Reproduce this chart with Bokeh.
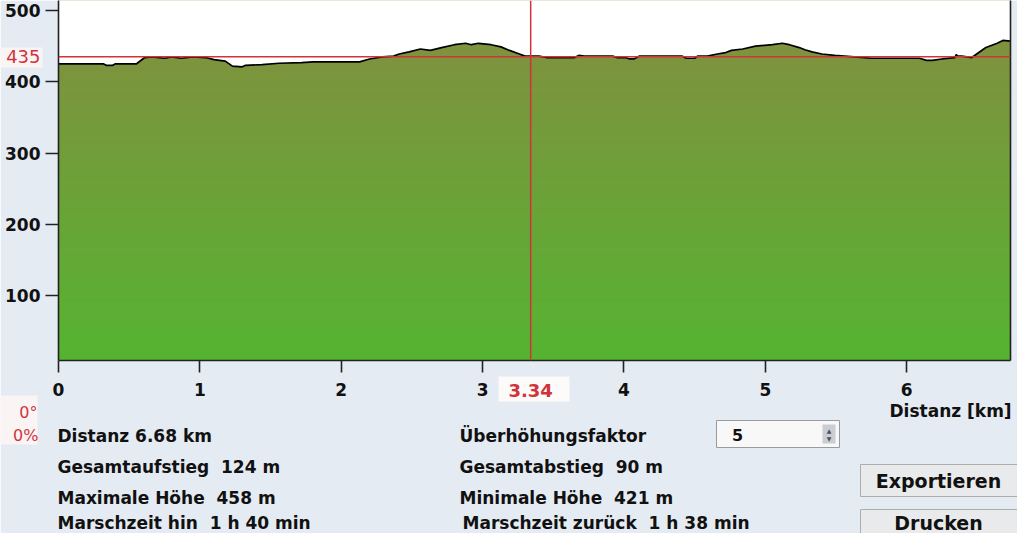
import numpy as np
from bokeh.plotting import figure
from bokeh.models import Range1d, FixedTicker, LinearAxis, Span
from bokeh.core.properties import value
from bokeh.embed import file_html
from bokeh.resources import INLINE

# ---------------- data ----------------
dist_km = [0.00, 0.32, 0.34, 0.38, 0.40, 0.55, 0.61, 0.66, 0.75, 0.80, 0.87, 0.95, 1.04, 1.10,
           1.18, 1.23, 1.30, 1.32, 1.44, 1.56, 1.72, 1.80, 2.13, 2.20, 2.29, 2.37, 2.41, 2.48,
           2.56, 2.63, 2.71, 2.80, 2.88, 2.92, 2.97, 3.06, 3.13, 3.19, 3.26, 3.30, 3.40, 3.45,
           3.65, 3.68, 3.72, 3.92, 3.95, 4.01, 4.04, 4.07, 4.09, 4.11, 4.41, 4.44, 4.50, 4.52,
           4.59, 4.66, 4.72, 4.76, 4.84, 4.93, 5.05, 5.12, 5.17, 5.24, 5.28, 5.33, 5.40, 5.49,
           5.70, 5.75, 6.09, 6.14, 6.18, 6.25, 6.34, 6.35, 6.36, 6.39, 6.46, 6.51, 6.56, 6.64,
           6.68, 6.734]
elev_m = [425, 425, 423, 423, 425, 425, 434, 435, 433, 435, 433, 435, 434, 431,
          429, 422, 421, 423, 424, 426, 427, 428, 428, 432, 435, 436, 439, 442,
          446, 444, 448, 452, 454, 452, 454, 452, 449, 444, 439, 436, 436, 434,
          434, 437, 436, 436, 434, 434, 432, 432, 434, 436, 436, 433, 433, 436,
          436, 439, 441, 444, 446, 450, 452, 454, 452, 448, 445, 442, 439, 437,
          434, 433, 433, 430, 430, 432, 434, 438, 436, 436, 434, 441, 448, 454,
          458, 457]

x_ticks = [0, 1, 2, 3, 4, 5, 6]
y_ticks = [100, 200, 300, 400, 500]
cursor_km = 3.34
cursor_elev = 435
cursor_km_text = "3.34"
cursor_elev_text = "435"
slope_texts = ["0°", "0%"]
stats_left = ["Distanz 6.68 km", "Gesamtaufstieg\u00a0 124 m", "Maximale Höhe\u00a0 458 m",
              "Marschzeit hin\u00a0 1 h 40 min"]
stats_right = ["Überhöhungsfaktor", "Gesamtabstieg\u00a0 90 m", "Minimale Höhe\u00a0 421 m",
               "Marschzeit zurück\u00a0 1 h 38 min"]
factor_text = "5"
button_texts = ["Exportieren", "Drucken"]
x_axis_text = "Distanz [km]"

# ---------------- layout ----------------
W, H = 1017, 533
FL, FR, FT, FB = 58, 1010, 0, 360
X0, X1 = 0.0, 6.734
Y0, Y1 = 9.1, 514.0

BG = "#E5EBF2"
RED = "#D0343A"
INK = "#111111"
FONT = "DejaVu Sans"


def dx(cx):
    return X0 + (cx - FL) * (X1 - X0) / (FR - FL)


def dy(cy):
    return Y1 - (cy - FT) * (Y1 - Y0) / (FB - FT)


p = figure(width=W, height=H, output_backend="svg", toolbar_location=None,
           x_range=Range1d(X0, X1), y_range=Range1d(Y0, Y1),
           min_border_left=FL, min_border_right=W - FR, min_border_top=FT,
           min_border_bottom=H - FB,
           background_fill_color="white", border_fill_color=BG, outline_line_color=None)
p.grid.visible = False

# gradient fill under the profile
n = 256
t = np.clip(np.linspace(0, 1, n) / 0.89, 0, 1)[:, None]
c_bot = np.array([0x56, 0xB4, 0x32], dtype=float)
c_top = np.array([0x80, 0x92, 0x3F], dtype=float)
img = np.empty((n, 1), dtype=np.uint32)
view = img.view(dtype=np.uint8).reshape((n, 1, 4))
for k in range(3):
    view[:, :, k] = (c_bot[k] + (c_top[k] - c_bot[k]) * t).astype(np.uint8)
view[:, :, 3] = 255
p.image_rgba(image=[img], x=X0, y=Y0, dw=X1 - X0, dh=Y1 - Y0)
p.varea(x=dist_km, y1=elev_m, y2=Y1, fill_color="white")
p.line(dist_km, elev_m, line_color="black", line_width=1.7)

p.add_layout(Span(location=cursor_elev, dimension="width", line_color=RED, line_width=1.5))
p.add_layout(Span(location=cursor_km, dimension="height", line_color=RED, line_width=1.5))

# axes
for ax in (p.xaxis[0], p.yaxis[0]):
    ax.axis_line_color = "#222222"
    ax.axis_line_width = 1.6
    ax.major_tick_line_color = "#222222"
    ax.major_tick_line_width = 1.6
    ax.major_tick_in = 0
    ax.minor_tick_in = 0
    ax.minor_tick_out = 0
    ax.major_label_text_font = FONT
    ax.major_label_text_font_style = "bold"
    ax.major_label_text_font_size = "17px"
    ax.major_label_text_color = INK
p.xaxis.ticker = FixedTicker(ticks=x_ticks)
p.yaxis.ticker = FixedTicker(ticks=y_ticks)
p.xaxis.major_tick_out = 12
p.xaxis.major_label_standoff = 10
p.yaxis.major_tick_out = 13
p.yaxis.major_label_standoff = 5

right_ax = LinearAxis(ticker=FixedTicker(ticks=[]), major_tick_out=0, major_tick_in=0,
                      minor_tick_out=0, minor_tick_in=0, major_label_text_font_size="0px",
                      axis_line_color="#222222", axis_line_width=1.6)
p.add_layout(right_ax, "right")


def box(l, t_, r, b, fill, line=None, lw=1):
    p.quad(left=dx(l), right=dx(r), top=dy(t_), bottom=dy(b), fill_color=fill,
           line_color=line, line_width=lw, level="overlay")


def text(cx, cy, s, size="17px", color=INK, style="bold", align="left", xdata=None, ydata=None):
    p.text(x=[dx(cx) if xdata is None else xdata], y=[dy(cy) if ydata is None else ydata],
           text=[s], text_font=value(FONT), text_font_size=size, text_font_style=style,
           text_color=color, text_align=align, text_baseline="middle", level="overlay")


# red cursor value boxes
box(0, 47, 42, 67, "#FBF4F5")
text(40, 56, cursor_elev_text, size="18px", color=RED, style="normal", align="right",
     ydata=cursor_elev)
box(498, 376, 569, 401, "#FDFAFA")
text(0, 390, cursor_km_text, size="18px", color=RED, style="bold", align="center",
     xdata=cursor_km)
box(0, 395, 37, 444, "#FBF4F5")
text(37, 412, slope_texts[0], size="16px", color=RED, style="normal", align="right")
text(38, 435, slope_texts[1], size="16px", color=RED, style="normal", align="right")

# axis title
text(889, 410, x_axis_text)

# statistics
row_y = [435, 466, 497, 522]
for s, yy in zip(stats_left, row_y):
    text(57, yy, s)
for i, (s, yy) in enumerate(zip(stats_right, row_y)):
    text(459 if i < 3 else 462, yy, s)

# factor selector
box(716, 420, 839, 447, "#F8F8F8", line="#9A9A9A")
box(822, 424, 835, 443, "#C9CED5")
text(737, 434, factor_text, size="16px", align="center")
text(828.5, 430, "▲", size="6px", color="#505050", style="normal", align="center")
text(828.5, 437.5, "▼", size="6px", color="#505050", style="normal", align="center")

# buttons
box(860, 464, 1030, 496, "#E9EAEB", line="#ADADAD")
box(860, 509, 1030, 545, "#E9EAEB", line="#ADADAD")
text(938, 480, button_texts[0], size="19px", align="center")
text(938, 522, button_texts[1], size="19px", align="center")

open("out.html", "w").write(file_html(p, INLINE))
